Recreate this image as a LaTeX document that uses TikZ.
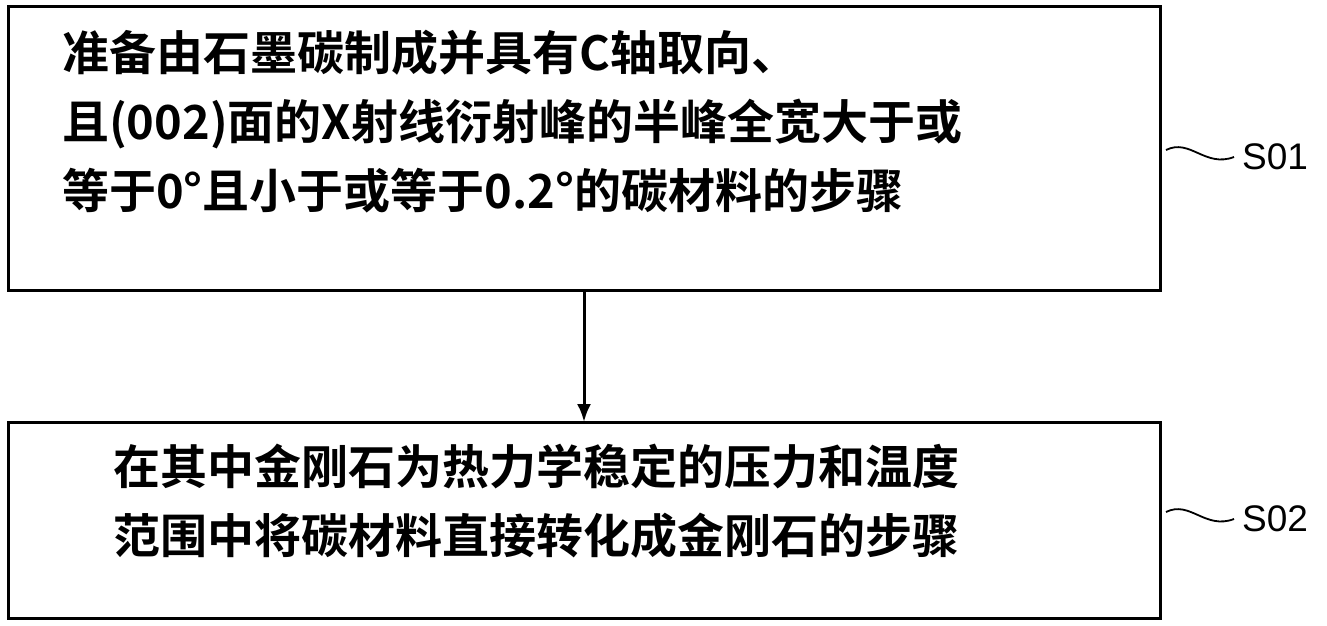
\documentclass[tikz,border=0pt]{standalone}
\usepackage{fontspec}
\usetikzlibrary{arrows.meta}
\newfontfamily\cjk{Noto Sans CJK SC Bold}
\setmainfont{Liberation Sans}
\begin{document}
\begin{tikzpicture}[x=1pt,y=-1pt,
  box/.style={draw,line width=3pt},
  txt/.style={font=\cjk\fontsize{47}{69}\selectfont,anchor=north west,align=left,inner sep=0},
  lab/.style={font=\fontsize{37}{40}\selectfont,anchor=west,inner sep=0}]
\useasboundingbox (0,0) rectangle (1327,625);
\draw[box] (8,6) rectangle (1160,290);
\draw[box] (8,422) rectangle (1160,618);
\node[txt] (t1) at (62,30) {准备由石墨碳制成并具有C轴取向、\\且(002)面的X射线衍射峰的半峰全宽大于或\\等于0°且小于或等于0.2°的碳材料的步骤};
\node[txt] (t2) at (113,444) {在其中金刚石为热力学稳定的压力和温度\\范围中将碳材料直接转化成金刚石的步骤};
\coordinate (a1) at (584,290);
\coordinate (a2) at (584,422);
\draw[line width=3pt,-{Latex[length=18pt,width=14pt]}] (a1) -- (a2);
\node[lab] (s1) at (1242,157) {S01};
\node[lab] (s2) at (1242,519) {S02};
\coordinate (w1) at (1166,150);
\coordinate (w2) at (1234,157);
\draw[line width=1.8pt] (w1) .. controls (1190,138) and (1205,168) .. (w2);
\coordinate (v1) at (1166,512);
\coordinate (v2) at (1234,519);
\draw[line width=1.8pt] (v1) .. controls (1190,500) and (1205,530) .. (v2);
\end{tikzpicture}
\end{document}
